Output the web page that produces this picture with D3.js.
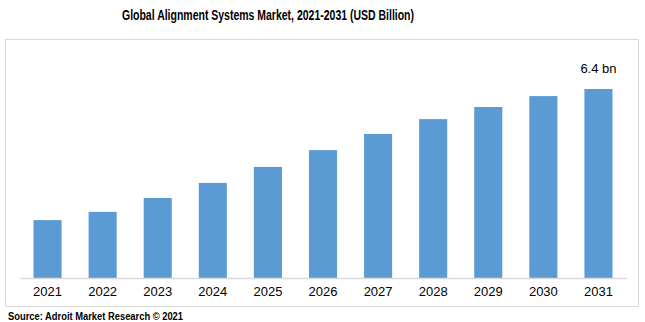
<!DOCTYPE html>
<html>
<head>
<meta charset="utf-8">
<script src="https://cdn.jsdelivr.net/npm/d3@7"></script>
<style>
  html, body { margin: 0; padding: 0; background: #fff; }
  svg { display: block; }
</style>
</head>
<body>
<svg id="chart" width="645" height="322"></svg>
<script>
// Market size by year, USD billion
const years = ["2021","2022","2023","2024","2025","2026","2027","2028","2029","2030","2031"];
const marketSize = [1.96, 2.24, 2.71, 3.22, 3.76, 4.33, 4.88, 5.38, 5.79, 6.16, 6.4];
const lastLabel = "6.4 bn";
const titleText = "Global Alignment Systems Market, 2021-2031 (USD Billion)";
const sourceText = "Source: Adroit Market Research © 2021";

const svg = d3.select("#chart");
const W = 645, H = 322;
const barColor = "#5B9BD5";
const gridColor = "#D9D9D9";

// Title
svg.append("text")
  .attr("x", 268).attr("y", 20)
  .attr("text-anchor", "middle")
  .attr("font-family", "'Liberation Sans Narrow', 'Arial Narrow', Arial, sans-serif")
  .attr("font-weight", "bold")
  .attr("font-size", 14)
  .attr("fill", "#000")
  .attr("textLength", 292)
  .attr("lengthAdjust", "spacingAndGlyphs")
  .text(titleText);

// Chart frame
svg.append("rect")
  .attr("x", 5.5).attr("y", 39.5)
  .attr("width", 633).attr("height", 267)
  .attr("fill", "none")
  .attr("stroke", gridColor)
  .attr("stroke-width", 1);

const x = d3.scaleBand()
  .domain(years)
  .range([20, 626])
  .paddingInner(0.49)
  .paddingOuter(0.245);

const y = d3.scaleLinear()
  .domain([0, 6.4])
  .range([278, 89]);

// Bars
svg.append("g").selectAll("rect")
  .data(years)
  .join("rect")
  .attr("x", d => x(d))
  .attr("y", (d, i) => y(marketSize[i]))
  .attr("width", x.bandwidth())
  .attr("height", (d, i) => y(0) - y(marketSize[i]))
  .attr("fill", barColor);

// Category axis
const xAxis = svg.append("g")
  .attr("transform", `translate(0,${y(0)})`)
  .call(d3.axisBottom(x).tickSize(0).tickPadding(9));
xAxis.select(".domain").attr("stroke", gridColor).attr("stroke-width", 1.5);
xAxis.selectAll("text")
  .attr("font-family", "Arial, 'Liberation Sans', sans-serif")
  .attr("font-size", 13)
  .attr("fill", "#000");

// Value label on the final bar
const lastIdx = years.length - 1;
svg.append("text")
  .attr("x", x(years[lastIdx]) + x.bandwidth() / 2)
  .attr("y", y(marketSize[lastIdx]) - 16)
  .attr("text-anchor", "middle")
  .attr("font-family", "Arial, 'Liberation Sans', sans-serif")
  .attr("font-size", 13)
  .attr("fill", "#000")
  .text(lastLabel);

// Source note
svg.append("text")
  .attr("x", 8).attr("y", 320)
  .attr("font-family", "Arial, 'Liberation Sans', sans-serif")
  .attr("font-weight", "bold")
  .attr("font-size", 10)
  .attr("fill", "#000")
  .attr("textLength", 175)
  .attr("lengthAdjust", "spacingAndGlyphs")
  .text(sourceText);
</script>
</body>
</html>
